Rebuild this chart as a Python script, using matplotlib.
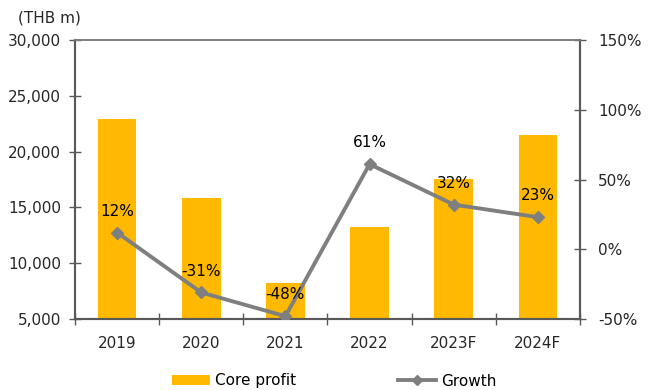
import matplotlib
matplotlib.use("Agg")
import matplotlib.pyplot as plt
from matplotlib.ticker import FuncFormatter, FixedLocator
from matplotlib.lines import Line2D
from matplotlib.patches import Patch

years = ["2019", "2020", "2021", "2022", "2023F", "2024F"]
core_profit = [22900, 15800, 8200, 13200, 17500, 21500]
growth_pct = [12, -31, -48, 61, 32, 23]

bar_color = "#FFB900"
line_color = "#7F7F7F"
spine_color = "#595959"
text_color = "#262626"
fs = 11

plt.rcParams["font.family"] = ["DejaVu Sans"]

fig = plt.figure(figsize=(6.54, 3.90), dpi=100)
ax = fig.add_axes([75 / 654, 1 - 319 / 390, 505 / 654, 279 / 390])
ax2 = ax.twinx()

x = list(range(len(years)))
ax.bar(x, core_profit, width=0.46, color=bar_color, zorder=2)
ax.set_ylim(5000, 30000)
ax.set_xlim(-0.5, len(years) - 0.5)
ax.set_yticks(range(5000, 30001, 5000))
ax.yaxis.set_major_formatter(FuncFormatter(lambda v, p: f"{int(v):,}"))

# category labels at centres, tick marks at category boundaries
ax.xaxis.set_major_locator(FixedLocator([i + 0.5 for i in range(-1, len(years))]))
ax.set_xticklabels([])
ax.xaxis.set_minor_locator(FixedLocator(x))
ax.set_xticklabels(years, minor=True)
ax.tick_params(axis="x", which="minor", length=0, pad=12, labelsize=fs, labelcolor=text_color)
ax.tick_params(axis="x", which="major", direction="inout", length=8, color=spine_color, width=1)
ax.tick_params(axis="y", direction="inout", length=8, color=spine_color, width=1,
               labelsize=fs, labelcolor=text_color, pad=6)

ax2.plot(x, growth_pct, color=line_color, lw=2.8, marker="D", ms=6, zorder=3)
ax2.set_ylim(-50, 150)
ax2.set_yticks(range(-50, 151, 50))
ax2.yaxis.set_major_formatter(FuncFormatter(lambda v, p: f"{int(v)}%"))
ax2.tick_params(axis="y", direction="inout", length=8, color=spine_color, width=1,
                labelsize=fs, labelcolor=text_color, pad=9)

for xi, g in zip(x, growth_pct):
    ax2.annotate(f"{g}%", (xi, g), xytext=(0, 10), textcoords="offset points",
                 ha="center", va="bottom", fontsize=fs, color="black", zorder=4)

for a in (ax, ax2):
    for s in a.spines.values():
        s.set_color(spine_color)
        s.set_linewidth(1.5)
ax.spines["top"].set_color("#7F7F7F")
ax.spines["top"].set_linewidth(1.2)
ax2.spines["top"].set_color("#7F7F7F")
ax2.spines["top"].set_linewidth(1.2)

fig.text(18 / 654, 1 - 18 / 390, "(THB m)", fontsize=fs, color=text_color, va="center", ha="left")

handles = [Patch(facecolor=bar_color, edgecolor="none"),
           Line2D([0], [0], color=line_color, lw=2.8, marker="D", ms=5)]
fig.legend(handles, ["Core profit", "Growth"], loc="center", bbox_to_anchor=(334 / 654, 1 - 381 / 390),
           ncol=2, frameon=False, fontsize=fs, handlelength=2.5, columnspacing=6.7,
           handletextpad=0.3, handleheight=0.6)

fig.savefig("out.png", dpi=100, facecolor="white")
